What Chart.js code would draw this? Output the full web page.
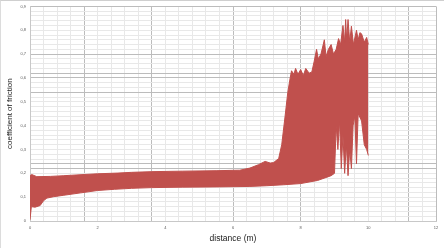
<!DOCTYPE html>
<html>
<head>
<meta charset="utf-8">
<script src="https://cdn.jsdelivr.net/npm/chart.js@4/dist/chart.umd.min.js"></script>
<style>
    html, body { margin: 0; padding: 0; background: #fff; }
    #wrap { position: relative; width: 444px; height: 248px; }
    #frame { position: absolute; left: 0; top: 0; right: 0; bottom: 0;
             border-top: 1px solid #cfcfcf; border-left: 1px solid #dcdcdc; pointer-events: none; }
</style>
</head>
<body>
<div id="wrap">
    <canvas id="frictionChart" width="444" height="248"></canvas>
    <div id="frame"></div>
</div>
<script>
// upper edge of the friction band (distance in m, coefficient)
const upperX = [0, 0.05, 0.2, 0.6, 1.0, 1.6, 2.0, 2.6, 3.0, 3.6, 4.5, 5.5, 6.2, 6.5, 6.75, 6.95,
    7.1, 7.2, 7.35, 7.44, 7.54, 7.62, 7.69, 7.73, 7.8, 7.85, 7.92, 8.0, 8.08, 8.15, 8.25, 8.33,
    8.4, 8.47, 8.52, 8.6, 8.7, 8.75, 8.82, 8.9, 8.97, 9.05, 9.12, 9.18, 9.25, 9.3, 9.33, 9.36,
    9.4, 9.45, 9.5, 9.56, 9.65, 9.7, 9.75, 9.8, 9.88, 9.95, 10.0];
const upperY = [0.19, 0.195, 0.186, 0.187, 0.19, 0.195, 0.198, 0.201, 0.204, 0.207, 0.209, 0.211, 0.213, 0.222, 0.236, 0.25,
    0.243, 0.245, 0.262, 0.32, 0.44, 0.54, 0.60, 0.63, 0.615, 0.64, 0.615, 0.635, 0.61, 0.64, 0.62, 0.625,
    0.67, 0.72, 0.68, 0.70, 0.76, 0.69, 0.72, 0.74, 0.70, 0.72, 0.765, 0.74, 0.82, 0.75, 0.845, 0.76,
    0.845, 0.75, 0.817, 0.74, 0.80, 0.76, 0.79, 0.785, 0.75, 0.77, 0.74];

// lower edge of the band
const lowerX = [0, 0.04, 0.15, 0.3, 0.4, 0.5, 0.7, 1.0, 1.5, 2.0, 2.5, 3.0, 3.6, 4.5, 5.5, 6.5,
    7.0, 7.5, 8.0, 8.5, 8.9, 9.0, 9.05, 9.1, 9.15, 9.2, 9.25, 9.3, 9.35, 9.4, 9.45, 9.5,
    9.55, 9.6, 9.65, 9.7, 9.8, 9.88, 9.95, 10.0];
const lowerY = [0.005, 0.06, 0.058, 0.065, 0.085, 0.096, 0.102, 0.108, 0.118, 0.128, 0.133, 0.137, 0.14, 0.142, 0.143, 0.145,
    0.148, 0.152, 0.157, 0.17, 0.19, 0.20, 0.40, 0.30, 0.42, 0.22, 0.36, 0.20, 0.32, 0.19, 0.30, 0.22,
    0.40, 0.44, 0.24, 0.45, 0.42, 0.32, 0.30, 0.275];

// gridlines that come out darker in the original
const darkX = [0, 1.6, 3.6, 6, 8, 11.2, 12];
const darkY = [0.9, 0.7, 0.62, 0.6, 0.54, 0.24, 0.22];

const red = '#c0504d';

function isIn(list, v) {
    return list.some(d => Math.abs(d - v) < 1e-6);
}

const ctx = document.getElementById('frictionChart').getContext('2d');
new Chart(ctx, {
    type: 'line',
    data: {
        datasets: [{
            data: upperX.map((x, i) => ({ x: x, y: upperY[i] })),
            borderColor: red,
            backgroundColor: red,
            borderWidth: 1,
            pointRadius: 0,
            fill: '+1'
        }, {
            data: lowerX.map((x, i) => ({ x: x, y: lowerY[i] })),
            borderColor: red,
            backgroundColor: red,
            borderWidth: 1,
            pointRadius: 0,
            fill: false
        }]
    },
    options: {
        responsive: false,
        animation: false,
        layout: { padding: { left: 0, right: 8, top: 6, bottom: 0 } },
        plugins: { legend: { display: false }, tooltip: { enabled: false } },
        scales: {
            x: {
                type: 'linear',
                min: 0,
                max: 12,
                afterFit: s => { s.height = 27; },
                ticks: {
                    stepSize: 0.4,
                    autoSkip: false,
                    maxRotation: 0,
                    padding: 4,
                    color: '#595959',
                    font: { family: 'Liberation Sans', size: 4 },
                    callback: v => Math.abs(v / 2 - Math.round(v / 2)) < 1e-6 ? String(Math.round(v)) : ''
                },
                grid: {
                    drawTicks: false,
                    color: c => isIn(darkX, c.tick.value) ? '#bcbcbc' : '#e8e8e8'
                },
                border: { color: '#c8c8c8' },
                title: {
                    display: true,
                    text: 'distance (m)',
                    color: '#1a1a1a',
                    font: { family: 'Liberation Sans', size: 8.5 },
                    padding: { top: 0, bottom: 4 }
                }
            },
            y: {
                min: 0,
                max: 0.9,
                afterFit: s => { s.width = 30; },
                ticks: {
                    stepSize: 0.02,
                    autoSkip: false,
                    padding: 4,
                    color: '#595959',
                    font: { family: 'Liberation Sans', size: 4 },
                    callback: v => {
                        if (Math.abs(v * 10 - Math.round(v * 10)) > 1e-6) return '';
                        return v === 0 ? '0' : (Math.round(v * 10) / 10).toFixed(1).replace('.', ',');
                    }
                },
                grid: {
                    drawTicks: false,
                    color: c => isIn(darkY, c.tick.value) ? '#bcbcbc' : '#e8e8e8'
                },
                border: { color: '#c8c8c8' },
                title: {
                    display: true,
                    text: 'coefficient of friction',
                    color: '#1a1a1a',
                    font: { family: 'Liberation Sans', size: 8 },
                    padding: { top: 5, bottom: 0 }
                }
            }
        }
    }
});
</script>
</body>
</html>
